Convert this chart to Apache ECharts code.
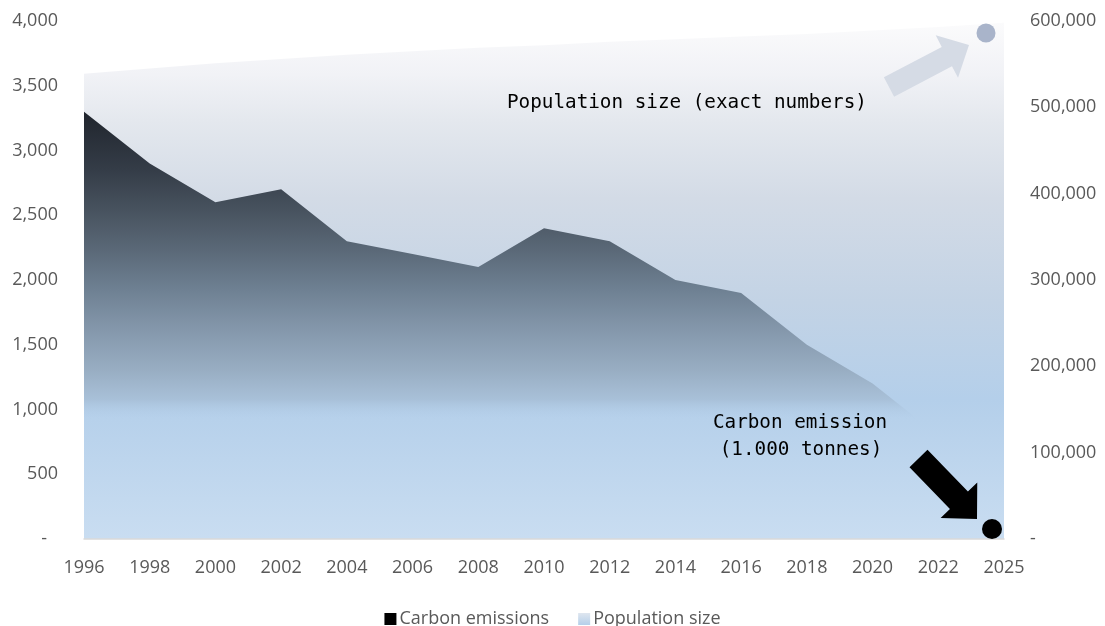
<!DOCTYPE html>
<html>
<head>
<meta charset="utf-8">
<script src="https://cdn.jsdelivr.net/npm/echarts@6/dist/echarts.min.js"></script>
<style>
html,body{margin:0;padding:0;background:#fff;}
#chart{width:1105px;height:626px;}
</style>
</head>
<body>
<div id="chart"></div>
<script>
const years = ['1996','1998','2000','2002','2004','2006','2008','2010','2012','2014','2016','2018','2020','2022','2025'];
const carbonEmissions = [3300,2900,2600,2700,2300,2200,2100,2400,2300,2000,1900,1500,1200,800,500];
const populationSize = [539000,545000,551000,556000,561000,565000,569000,572000,576000,579000,582000,585000,589000,593000,598000];
const leftTicks = [0,500,1000,1500,2000,2500,3000,3500,4000];
const rightTicks = [0,100000,200000,300000,400000,500000,600000];

const LABEL_FONT = '"Open Sans", "Liberation Sans", sans-serif';
const MONO_FONT = '"DejaVu Sans Mono", "Liberation Mono", monospace';
const GREY = '#595959';

function fmt(v){ return String(Math.round(v)).replace(/\B(?=(\d{3})+(?!\d))/g, ','); }

function arrow(tx, ty, px, py, shaftW, headW, headL){
  const dx = px - tx, dy = py - ty, L = Math.hypot(dx, dy);
  const ux = dx / L, uy = dy / L, nx = -uy, ny = ux;
  const bx = px - ux * headL, by = py - uy * headL;
  const s = shaftW / 2, h = headW / 2;
  return [
    [tx + nx * s, ty + ny * s],
    [bx + nx * s, by + ny * s],
    [bx + nx * h, by + ny * h],
    [px, py],
    [bx - nx * h, by - ny * h],
    [bx - nx * s, by - ny * s],
    [tx - nx * s, ty - ny * s]
  ];
}

const popGradient = new echarts.graphic.LinearGradient(0, 0, 0, 1, [
  {offset: 0, color: '#fbfbfc'},
  {offset: 0.10, color: '#f1f2f6'},
  {offset: 0.19, color: '#e4e8ee'},
  {offset: 0.34, color: '#d3dbe6'},
  {offset: 0.54, color: '#c3d3e5'},
  {offset: 0.73, color: '#b4cfea'},
  {offset: 1, color: '#c9ddf1'}
]);
const carbonGradient = new echarts.graphic.LinearGradient(0, 0, 0, 1, [
  {offset: 0, color: '#20252d'},
  {offset: 0.134, color: '#343c47'},
  {offset: 0.228, color: '#47525e'},
  {offset: 0.322, color: '#5a6877'},
  {offset: 0.415, color: '#6e8092'},
  {offset: 0.509, color: '#8497ab'},
  {offset: 0.603, color: '#98adc2'},
  {offset: 0.673, color: '#a8c0d8'},
  {offset: 0.72, color: 'rgba(180,207,234,0)'},
  {offset: 1, color: 'rgba(180,207,234,0)'}
]);
const legendPop = new echarts.graphic.LinearGradient(0, 0, 0, 1, [
  {offset: 0, color: '#dfe6ef'},
  {offset: 1, color: '#b4cfea'}
]);

const chart = echarts.init(document.getElementById('chart'), null, {renderer: 'canvas'});
chart.setOption({
  animation: false,
  backgroundColor: '#fff',
  grid: {left: 84, right: 101, top: 21, bottom: 87, containLabel: false},
  legend: {
    top: 605,
    left: 'center',
    icon: 'rect',
    itemWidth: 12,
    itemHeight: 12,
    itemGap: 29,
    textStyle: {color: GREY, fontSize: 18, fontFamily: LABEL_FONT, padding: [0,0,0,-2]},
    data: [
      {name: 'Carbon emissions', itemStyle: {color: '#000'}},
      {name: 'Population size', itemStyle: {color: legendPop}}
    ]
  },
  xAxis: {
    type: 'category',
    data: years,
    boundaryGap: false,
    z: 10,
    axisLine: {show: true, lineStyle: {color: '#d9d9d9', width: 1.5}},
    axisTick: {show: false},
    axisLabel: {color: GREY, fontSize: 18, fontFamily: LABEL_FONT, margin: 20, interval: 0},
    splitLine: {show: false}
  },
  yAxis: [
    {
      type: 'value', min: leftTicks[0], max: leftTicks[leftTicks.length-1], interval: 500,
      axisLine: {show: false}, axisTick: {show: false}, splitLine: {show: false},
      axisLabel: {
        color: GREY, fontSize: 18, fontFamily: LABEL_FONT, margin: 26,
        formatter: v => v === 0 ? '{z|-}' : fmt(v),
        rich: {z: {color: GREY, fontSize: 18, fontFamily: LABEL_FONT, padding: [0, 11, 0, 0]}}
      }
    },
    {
      type: 'value', min: rightTicks[0], max: rightTicks[rightTicks.length-1], interval: 100000,
      position: 'right',
      axisLine: {show: false}, axisTick: {show: false}, splitLine: {show: false},
      axisLabel: {
        color: GREY, fontSize: 18, fontFamily: LABEL_FONT, margin: 26,
        formatter: v => v === 0 ? '-' : fmt(v)
      }
    }
  ],
  series: [
    {
      name: 'Population size',
      type: 'line',
      yAxisIndex: 1,
      data: populationSize,
      showSymbol: false,
      symbol: 'none',
      lineStyle: {width: 0},
      itemStyle: {color: '#b4cfea'},
      areaStyle: {color: popGradient, opacity: 1},
      z: 1
    },
    {
      name: 'Carbon emissions',
      type: 'line',
      yAxisIndex: 0,
      data: carbonEmissions,
      showSymbol: false,
      symbol: 'none',
      lineStyle: {width: 0},
      itemStyle: {color: '#000'},
      areaStyle: {color: carbonGradient, opacity: 1},
      z: 2
    }
  ],
  graphic: [
    {type: 'polygon', z: 100, shape: {points: arrow(889, 87, 969, 45, 22, 48, 25)}, style: {fill: '#d5dbe5'}},
    {type: 'circle', z: 100, shape: {cx: 986, cy: 33, r: 9.5}, style: {fill: '#a9b4ca'}},
    {type: 'polygon', z: 100, shape: {points: arrow(918.5, 458.5, 977, 519, 25, 51, 26)}, style: {fill: '#000'}},
    {type: 'circle', z: 100, shape: {cx: 992, cy: 529, r: 10}, style: {fill: '#000'}},
    {type: 'text', z: 100, x: 507, y: 103, style: {text: 'Population size (exact numbers)', fill: '#000', font: '19.3px ' + MONO_FONT, textVerticalAlign: 'middle', textAlign: 'left'}},
    {type: 'text', z: 100, x: 800, y: 423, style: {text: 'Carbon emission', fill: '#000', font: '19.3px ' + MONO_FONT, textVerticalAlign: 'middle', textAlign: 'center'}},
    {type: 'text', z: 100, x: 801, y: 450, style: {text: '(1.000 tonnes)', fill: '#000', font: '19.3px ' + MONO_FONT, textVerticalAlign: 'middle', textAlign: 'center'}}
  ]
});
</script>
</body>
</html>
